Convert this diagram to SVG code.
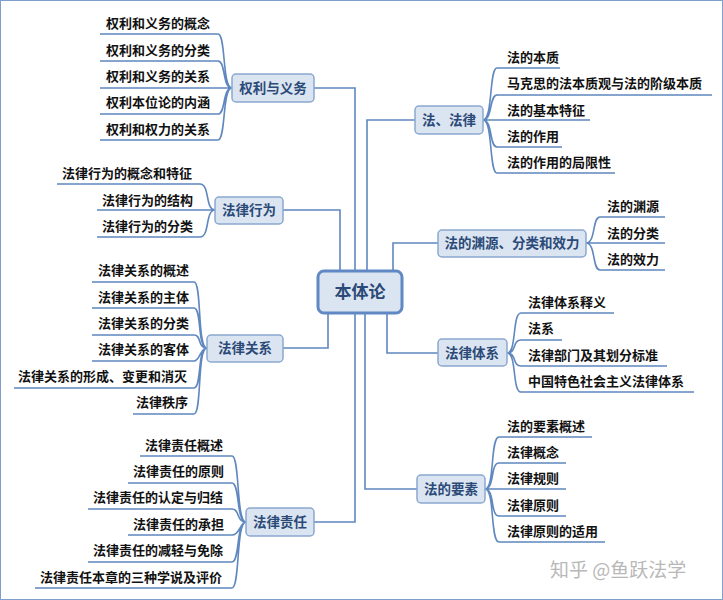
<svg xmlns="http://www.w3.org/2000/svg" width="723" height="600" viewBox="0 0 723 600">
<style>
.l{fill:none;stroke:#5f88bf;stroke-width:1.6}
.t{font-family:"Noto Sans CJK SC",sans-serif;font-size:13px;font-weight:bold;fill:#111}
.n rect{fill:#dbe5f1;stroke:#8aa8d0;stroke-width:1.5}
.n text{font-family:"Noto Sans CJK SC",sans-serif;font-size:13.5px;font-weight:bold;fill:#2b4a78;text-anchor:middle}
</style>
<rect x="0.5" y="0.5" width="722" height="599" fill="#fff" stroke="#7fa0cc"/>
<g id="connectors" class="l">
<path d="M314 88H355V271M283 210H340V271M415 120H367V271M438 243H393V271M387 313V353H438M365 313V489H417M355 313V522H314M328 313V348H283"/>
<path d="M232 88C222 88 226 34 218 34H100M232 88C222 88 226 61 218 61H100M232 88H100M232 88C222 88 226 114 218 114H100M232 88C222 88 226 140 218 140H100"/>
<path d="M215 210C205 210 210 184 200 184H57M215 210H97M215 210C205 210 210 237 200 237H97"/>
<path d="M207 348C197 348 202 282 194 282H92M207 348C197 348 202 308 194 308H92M207 348C197 348 202 335 194 335H92M207 348C200 348 200 361 194 361H92M207 348C197 348 202 388 194 388H14M207 348C197 348 202 414 194 414H133"/>
<path d="M246 522C236 522 240 456 232 456H140M246 522C236 522 240 483 232 483H128M246 522C236 522 240 509 232 509H88M246 522C240 522 240 535 232 535H128M246 522C236 522 240 562 232 562H88M246 522C236 522 240 588 232 588H35"/>
<path d="M483 120C493 120 489 68 497 68H560M483 120C493 120 489 95 497 95H712M483 120H590M483 120C493 120 489 147 497 147H562M483 120C493 120 489 173 497 173H615"/>
<path d="M586 243C596 243 592 217 600 217H665M586 243H665M586 243C596 243 592 270 600 270H665"/>
<path d="M507 353C517 353 512 313 521 313H614M507 353C517 353 512 340 521 340H562M507 353C517 353 512 366 521 366H667M507 353C517 353 512 392 521 392H694"/>
<path d="M485 489C495 489 490 437 499 437H592M485 489C495 489 490 463 499 463H566M485 489H566M485 489C495 489 490 516 499 516H566M485 489C495 489 490 542 499 542H605"/>
</g>
<g id="root"><rect x="318" y="271" width="84" height="42" rx="6" fill="#dbe5f1" stroke="#5f88c4" stroke-width="3"/><text x="360" y="298" text-anchor="middle" font-family="Noto Sans CJK SC,sans-serif" font-size="17" font-weight="bold" fill="#2b4a78">本体论</text></g>
<g id="n1" class="n"><rect x="232" y="74" width="82" height="28" rx="4"/><text x="273" y="93">权利与义务</text></g>
<g id="n2" class="n"><rect x="215" y="197" width="68" height="27" rx="4"/><text x="249" y="215">法律行为</text></g>
<g id="n3" class="n"><rect x="207" y="335" width="76" height="27" rx="4"/><text x="245" y="353">法律关系</text></g>
<g id="n4" class="n"><rect x="246" y="508" width="68" height="28" rx="4"/><text x="280" y="527">法律责任</text></g>
<g id="n5" class="n"><rect x="415" y="106" width="68" height="28" rx="4"/><text x="449" y="125">法、法律</text></g>
<g id="n6" class="n"><rect x="438" y="230" width="148" height="27" rx="4"/><text x="512" y="248">法的渊源、分类和效力</text></g>
<g id="n7" class="n"><rect x="438" y="339" width="69" height="27" rx="4"/><text x="472" y="358">法律体系</text></g>
<g id="n8" class="n"><rect x="417" y="475" width="68" height="28" rx="4"/><text x="451" y="494">法的要素</text></g>
<g id="leaves" class="t">
<text x="106" y="28">权利和义务的概念</text><text x="106" y="55">权利和义务的分类</text><text x="106" y="81">权利和义务的关系</text><text x="106" y="107">权利本位论的内涵</text><text x="106" y="134">权利和权力的关系</text>
<text x="62" y="178">法律行为的概念和特征</text><text x="102" y="205">法律行为的结构</text><text x="102" y="231">法律行为的分类</text>
<text x="98" y="275">法律关系的概述</text><text x="98" y="302">法律关系的主体</text><text x="98" y="328">法律关系的分类</text><text x="98" y="354">法律关系的客体</text><text x="18" y="381">法律关系的形成、变更和消灭</text><text x="136" y="407">法律秩序</text>
<text x="145" y="450">法律责任概述</text><text x="133" y="476">法律责任的原则</text><text x="93" y="502">法律责任的认定与归结</text><text x="133" y="529">法律责任的承担</text><text x="93" y="555">法律责任的减轻与免除</text><text x="40" y="582">法律责任本章的三种学说及评价</text>
<text x="507" y="62">法的本质</text><text x="507" y="88">马克思的法本质观与法的阶级本质</text><text x="507" y="115">法的基本特征</text><text x="507" y="141">法的作用</text><text x="507" y="167">法的作用的局限性</text>
<text x="607" y="211">法的渊源</text><text x="607" y="238">法的分类</text><text x="607" y="264">法的效力</text>
<text x="528" y="307">法律体系释义</text><text x="528" y="333">法系</text><text x="528" y="360">法律部门及其划分标准</text><text x="528" y="386">中国特色社会主义法律体系</text>
<text x="507" y="431">法的要素概述</text><text x="507" y="457">法律概念</text><text x="507" y="483">法律规则</text><text x="507" y="510">法律原则</text><text x="507" y="536">法律原则的适用</text>
</g>
<text x="550" y="577" font-family="Noto Sans CJK SC,sans-serif" font-size="19" fill="#b8b8b8">知乎 @鱼跃法学</text>
</svg>
